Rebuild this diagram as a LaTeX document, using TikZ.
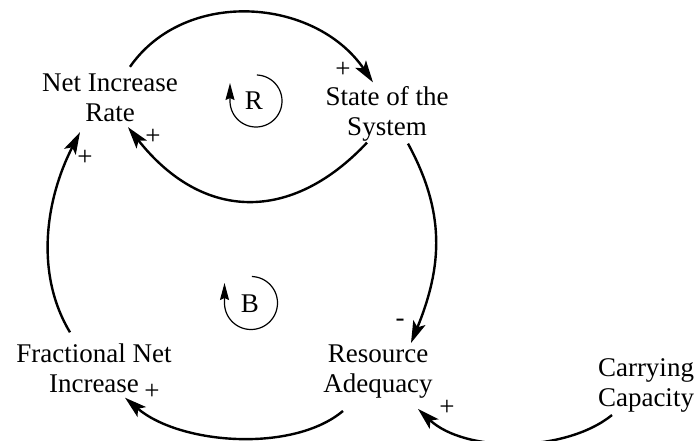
\documentclass[tikz,border=0pt]{standalone}
\usepackage{fontspec}
\setmainfont{Liberation Serif}
\usetikzlibrary{arrows.meta,calc}
\begin{document}
\begin{tikzpicture}[x=1pt,y=-1pt,
  lbl/.style={font=\fontsize{27}{30}\selectfont, align=center, inner sep=0pt},
  sgn/.style={font=\fontsize{27}{30}\selectfont, inner sep=0pt},
  link/.style={line width=2.4pt, -{Stealth[length=22pt,width=13pt,inset=5pt]}},
  loopmark/.style={line width=1.2pt, -{Stealth[length=17pt,width=9pt,inset=2pt]}}]
\path[use as bounding box] (0,0) rectangle (699,441);
% variables
\node[lbl] (nir) at (110,98) {Net Increase\\Rate};
\node[lbl] (sos) at (387,114) {State of the\\System};
\node[lbl] (fni) at (94,368) {Fractional Net\\Increase};
\node[lbl] (ra) at (378,372) {Resource\\Adequacy};
\node[lbl] (cc) at (646,385) {Carrying\\Capacity};
% loop markers
\node[sgn] (rlab) at (254,101) {R};
\node[sgn] (blab) at (250,304) {B};
\draw[loopmark] plot[domain=-88:180, samples=60, smooth] ({256+26*cos(\x)}, {101+26*sin(\x)}) -- ++(0,-18);
\draw[loopmark] plot[domain=-88:180, samples=60, smooth] ({251+26.5*cos(\x)}, {303+26.5*sin(\x)}) -- ++(0,-20);
% links
\draw[link] ($(nir.north)+(20,-7)$) .. controls +(55,-79) and +(-58,-85) .. ($(sos.north)+(-14,-4)$);
\draw[link] ($(sos.south)+(-20,1)$) .. controls +(-75,80) and +(75,95) .. ($(nir.south)+(18,5)$);
\draw[link] ($(sos.south)+(21,2)$) .. controls +(37,68) and +(32,-78) .. ($(ra.north)+(33,-2)$);
\draw[link] ($(ra.south)+(-35,12)$) .. controls +(-50,42) and +(55,47) .. ($(fni.south)+(31,5)$);
\draw[link] ($(cc.south)+(-34,3)$) .. controls +(-47,38) and +(47,44) .. ($(ra.south)+(40,10)$);
\draw[link] ($(fni.north)+(-24,-11)$) .. controls +(-35,-58) and +(-35,68) .. ($(nir.south)+(-30,10)$);
% polarities
\node[sgn] (s1) at (343,70) {+};
\node[sgn] (s2) at (153,137) {+};
\node[sgn] (s3) at (85,158) {+};
\node[sgn] (s4) at (400,323) {-};
\node[sgn] (s5) at (152,392) {+};
\node[sgn] (s6) at (447,408) {+};
\end{tikzpicture}
\end{document}
